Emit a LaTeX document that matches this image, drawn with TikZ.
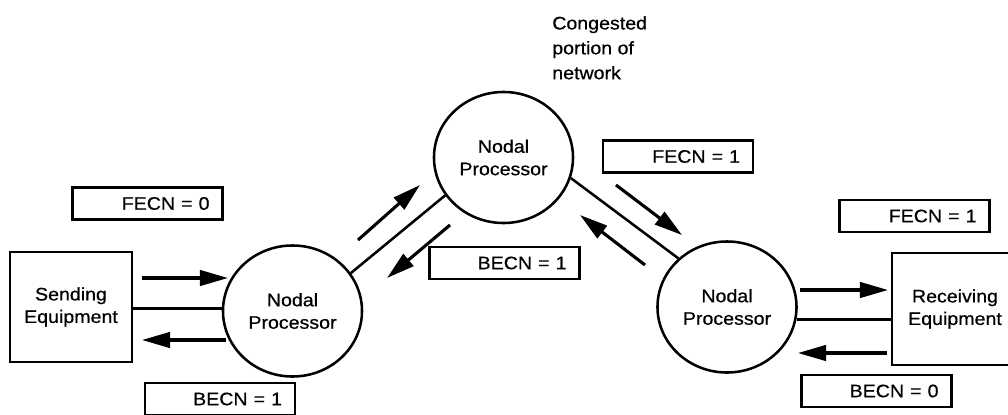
\documentclass[tikz,border=0pt]{standalone}
\usepackage{fontspec}
\setmainfont{Liberation Sans}[FakeStretch=1.08, FakeBold=0.6]
\usepackage{tikz}
\usetikzlibrary{positioning}
\usetikzlibrary{shapes.geometric}
\usetikzlibrary{arrows.meta}
\newcommand\lblfont{\fontsize{12.9}{16}\selectfont}
\newcommand\notefont{\fontsize{12.9}{17.7}\selectfont}

\begin{document}
\begin{tikzpicture}[x=0.025cm, y=-0.025cm,
    every node/.style={font=\lblfont},
    proc/.style={ellipse, draw, line width=1.8pt, minimum width=3.475cm, minimum height=3.275cm, inner sep=0pt, align=center},
    equip/.style={rectangle, draw, line width=1.8pt, inner sep=0pt, align=center},
    flag/.style={rectangle, draw, line width=1.8pt, text width=3.1cm, inner xsep=0.325cm, minimum height=0.8cm, align=right},
    link/.style={line width=1.8pt},
    flow/.style={line width=2.2pt, -{Triangle[length=20pt,width=11pt]}}]
    \useasboundingbox (0,0) rectangle (1008,415);
    \clip (0,0) rectangle (1008,415);

    % End equipment
    \node[equip, minimum width=3.05cm, minimum height=2.75cm] (snd) at (71,307) {Sending\\Equipment};
    \node[equip, minimum width=3.15cm, minimum height=2.8cm] (rcv) at (955,309) {Receiving\\Equipment};

    % Nodal processors
    \node[proc] (lnp) at (292.5,311) {Nodal\\Processor};
    \node[proc] (tnp) at (503.5,157.5) {Nodal\\Processor};
    \node[proc] (rnp) at (727,307) {Nodal\\Processor};

    % Congestion note
    \node[anchor=north west, inner sep=0pt, align=left, font=\notefont] (note) at (552,16) {Congested\\portion of\\network};

    % Links
    \draw[link] (lnp.178) -- (lnp.178 -| snd.east);
    \draw[link] (lnp.33) -- (tnp.213);
    \draw[link] (tnp.-17) -- (rnp.135);
    \draw[link] (rnp.-10) -- (rnp.-10 -| rcv.west);

    % Frame flow
    \draw[flow] (142,278) -- (228,278);
    \draw[flow] (226,340) -- (142,340);
    \draw[flow] (358,240) -- (420,185);
    \draw[flow] (450,225) -- (387,278);
    \draw[flow] (616,185) -- (682,235);
    \draw[flow] (645,265) -- (580,215);
    \draw[flow] (800,290) -- (888,290);
    \draw[flow] (887,353) -- (798,353);

    % Congestion bits
    \node[flag] (fa) at (147.5,203.5) {FECN = 0};
    \node[flag] (ba) at (220,399) {BECN = 1};
    \node[flag] (bb) at (504.5,263) {BECN = 1};
    \node[flag] (fb) at (678,156.5) {FECN = 1};
    \node[flag] (fc) at (914.5,216) {FECN = 1};
    \node[flag] (bc) at (876.5,391) {BECN = 0};
\end{tikzpicture}
\end{document}
